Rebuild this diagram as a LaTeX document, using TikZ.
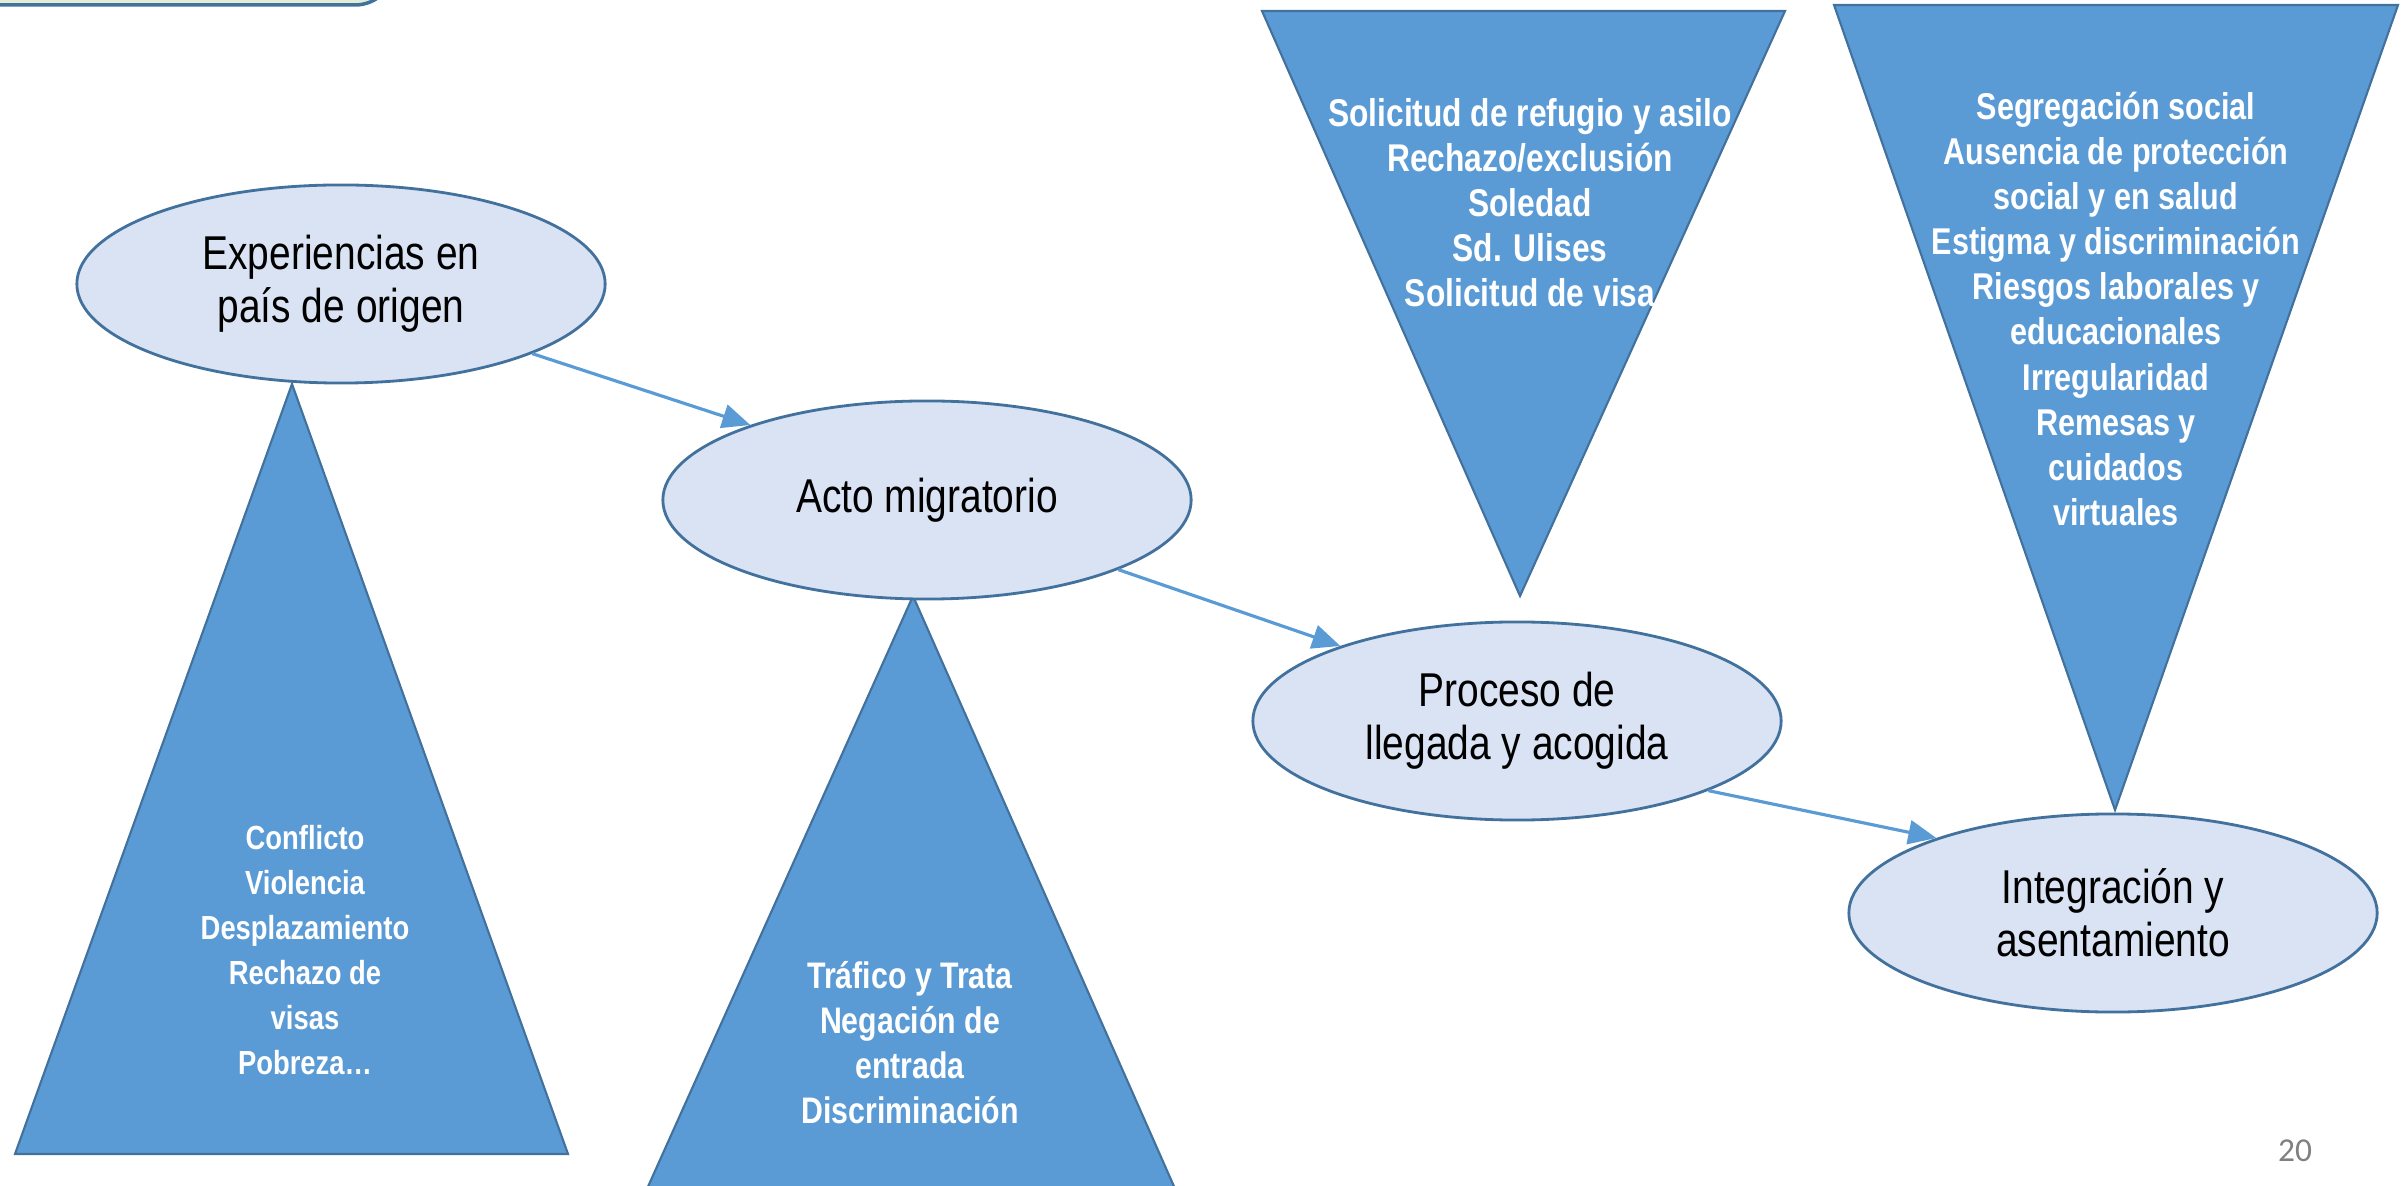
\documentclass[tikz,border=0pt]{standalone}
\usepackage{fontspec}
\usetikzlibrary{shapes.geometric,arrows.meta}
\newfontfamily\mgNarrow[FakeStretch=0.82]{Liberation Sans}
\newfontfamily\mgPage{Carlito}
\definecolor{mgFill}{HTML}{DAE3F3}
\definecolor{mgEdge}{HTML}{41719C}
\definecolor{mgBlue}{HTML}{5B9BD5}
\definecolor{mgGreen}{HTML}{E2EDD6}
\tikzset{mgStage/.style={draw=mgEdge,fill=mgFill,ellipse,line width=0.8pt,inner sep=0pt,
  minimum width=5.28cm,minimum height=1.98cm,align=center,
  font=\mgNarrow\fontsize{13.5}{15}\selectfont},
 mgFactor/.style={draw=mgEdge,fill=mgBlue,line width=0.6pt,line join=miter},
 mgFactorText/.style={text=white,align=center,inner sep=0pt,
  font=\mgNarrow\bfseries\fontsize{#1}{12.8}\selectfont},
 mgFlow/.style={draw=mgBlue,line width=0.9pt,-{Triangle[length=0.28cm,width=0.24cm]}}}
\begin{document}
\begin{tikzpicture}[x=0.01cm,y=-0.01cm]
\useasboundingbox (0,0) rectangle (2407,1186);
\clip (0,0) rectangle (2407,1186);
% title box, only its lower edge shows
\draw[draw=mgEdge,fill=mgGreen,line width=1pt,rounded corners=0.4cm] (-40,-120) rectangle (395,5);
% factor triangles
\draw[mgFactor] (292,384) -- (568,1154) -- (15,1154) -- cycle;
\draw[mgFactor] (913,596) -- (1180,1200) -- (642,1200) -- cycle;
\draw[mgFactor] (1262,11) -- (1785,11) -- (1520,596) -- cycle;
\draw[mgFactor] (1834,5) -- (2398,5) -- (2115,810) -- cycle;
\node[mgFactorText=9.5] (f1) at (305,950) {Conflicto\\Violencia\\Desplazamiento\\Rechazo de\\visas\\Pobreza\dots};
\node[mgFactorText=10.5] (f2) at (910,1043) {Tráfico y Trata\\Negación de\\entrada\\Discriminación};
\node[mgFactorText=11] (f3) at (1530,203) {Solicitud de refugio y asilo\\Rechazo/exclusión\\Soledad\\Sd. Ulises\\Solicitud de visa};
\node[mgFactorText=10.6] (f4) at (2116,309) {Segregación social\\Ausencia de protección\\social y en salud\\Estigma y discriminación\\Riesgos laborales y\\educacionales\\Irregularidad\\Remesas y\\cuidados\\virtuales};
% stages
\node[mgStage] (e1) at (341,284) {Experiencias en\\país de origen};
\node[mgStage] (e2) at (927,500) {Acto migratorio};
\node[mgStage] (e3) at (1517,721) {Proceso de\\llegada y acogida};
\node[mgStage] (e4) at (2113,913) {Integración y\\asentamiento};
\foreach \a/\b in {e1/e2,e2/e3,e3/e4}{
\draw[mgFlow] (\a.-20)--(\b.157);}
\node[text=black!50,font=\mgPage\fontsize{9.5}{11}\selectfont] (pg) at (2295,1151) {20};
\end{tikzpicture}
\end{document}
